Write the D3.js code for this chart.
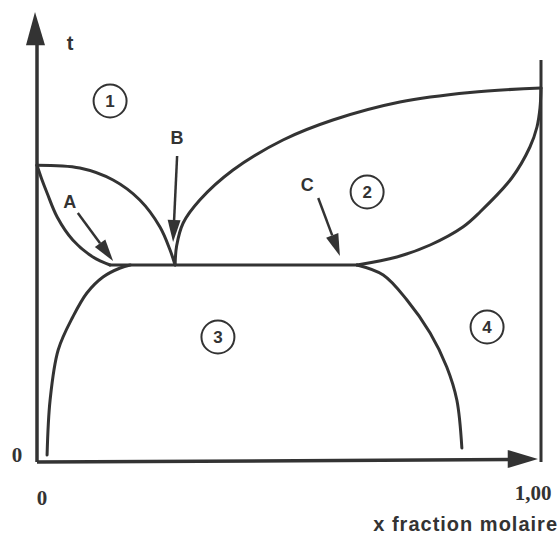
<!DOCTYPE html>
<html>
<head>
<meta charset="utf-8">
<script src="https://cdn.jsdelivr.net/npm/d3@7"></script>
<style>
  body { margin: 0; background: #fff; }
  svg { display: block; }
  .curve { fill: none; stroke: #333; stroke-width: 3; stroke-linecap: round; stroke-linejoin: round; }
  .sans { font-family: "Liberation Sans", Arial, sans-serif; font-weight: bold; fill: #333; }
  .serif { font-family: "Liberation Serif", "Times New Roman", serif; font-weight: bold; fill: #333; }
</style>
</head>
<body>
<div id="wrapper"></div>
<script>
// x = fraction molaire, t = temperature (arbitrary units)
const leftLiquidus = [[0, 74.2], [0.085, 73.5], [0.151, 70.5], [0.204, 65.5], [0.244, 58.75], [0.264, 53], [0.274, 49.25]];
const leftSolidus = [[0, 74.2], [0.01, 70.5], [0.02, 67.25], [0.04, 61.25], [0.071, 55.5], [0.111, 51.25], [0.145, 49.25]];
const eutectic = [[0.145, 49.25], [0.635, 49.25]];
const domeLeft = [[0.020, 1.75], [0.026, 15.5], [0.042, 28], [0.071, 36.25], [0.099, 42.25], [0.131, 46.25], [0.165, 48.5], [0.185, 49.25]];
const domeRight = [[0.635, 49.25], [0.687, 46.75], [0.734, 40.5], [0.780, 32.25], [0.813, 23.75], [0.833, 15.5], [0.843, 3.5]];
const rightLiquidus = [[0.274, 49.25], [0.277, 54], [0.290, 59.75], [0.323, 65.5], [0.389, 73], [0.488, 80.5], [0.587, 85.5], [0.720, 90], [0.859, 92.4], [1.0, 93.5]];
const rightSolidus = [[0.635, 49.25], [0.714, 51.25], [0.780, 54.25], [0.845, 58.75], [0.879, 62.5], [0.942, 71], [0.978, 78.75], [0.992, 83.75], [0.998, 88.5], [1.0, 93.5]];

const regions = [
    {label: "1", x: 0.145, t: 90.25},
    {label: "2", x: 0.655, t: 67.5},
    {label: "3", x: 0.359, t: 31.25},
    {label: "4", x: 0.893, t: 33.75}
];
const pointers = [
    {label: "A", from: [0.081, 62.25], to: [0.151, 50.25], text: [0.065, 65]},
    {label: "B", from: [0.278, 76.5], to: [0.270, 55], text: [0.278, 81]},
    {label: "C", from: [0.558, 66], to: [0.601, 51.5], text: [0.536, 69.25]}
];
const xTickLabels = ["0", "1,00"];
const yTickLabels = ["0"];

const dimension = {width: 559, height: 535};

const svg = d3.select("#wrapper").append("svg")
    .attr("width", dimension.width)
    .attr("height", dimension.height);

const xScaler = d3.scaleLinear().domain([0, 1]).range([37, 541]);
const yScaler = d3.scaleLinear().domain([0, 100]).range([462, 62]);

const line = d3.line()
    .x(d => xScaler(d[0]))
    .y(d => yScaler(d[1]))
    .curve(d3.curveCatmullRom.alpha(0.5));

// axes
const ax = svg.append("g");
ax.append("line")
    .attr("x1", xScaler(0)).attr("y1", yScaler(0))
    .attr("x2", xScaler(0)).attr("y2", yScaler(108))
    .attr("stroke", "#333").attr("stroke-width", 3.5);
ax.append("path")
    .attr("d", `M${xScaler(0) - 2},${yScaler(112.5)} L${xScaler(0) - 11},${yScaler(104.2)} L${xScaler(0) + 8},${yScaler(104.2)} Z`)
    .attr("fill", "#333");
ax.append("line")
    .attr("x1", xScaler(0)).attr("y1", yScaler(0))
    .attr("x2", xScaler(0.94)).attr("y2", yScaler(0.6))
    .attr("stroke", "#333").attr("stroke-width", 3.5);
ax.append("path")
    .attr("d", `M${xScaler(0.994)},${yScaler(0.75)} L${xScaler(0.934)},${yScaler(3)} L${xScaler(0.934)},${yScaler(-1.5)} Z`)
    .attr("fill", "#333");
// right border (pure component)
ax.append("line")
    .attr("x1", xScaler(1)).attr("y1", yScaler(100.5))
    .attr("x2", xScaler(1)).attr("y2", yScaler(0))
    .attr("stroke", "#333").attr("stroke-width", 3);

// phase boundaries
[leftLiquidus, leftSolidus, eutectic, domeLeft, domeRight, rightLiquidus, rightSolidus].forEach(d => {
    svg.append("path").attr("class", "curve").attr("d", line(d));
});

// circled region numbers
const reg = svg.selectAll(".region").data(regions).join("g")
    .attr("transform", d => `translate(${xScaler(d.x)},${yScaler(d.t)})`);
reg.append("circle").attr("r", 16.5)
    .attr("fill", "none").attr("stroke", "#333").attr("stroke-width", 2);
reg.append("text").attr("class", "sans")
    .attr("text-anchor", "middle").attr("dy", "0.36em")
    .attr("font-size", 17)
    .text(d => d.label);

// pointer arrows A, B, C
pointers.forEach(p => {
    const x1 = xScaler(p.from[0]), y1 = yScaler(p.from[1]);
    const x2 = xScaler(p.to[0]), y2 = yScaler(p.to[1]);
    const ang = Math.atan2(y2 - y1, x2 - x1);
    const hl = 22, hw = 6.5;
    const bx = x2 - hl * Math.cos(ang), by = y2 - hl * Math.sin(ang);
    svg.append("line")
        .attr("x1", x1).attr("y1", y1).attr("x2", bx).attr("y2", by)
        .attr("stroke", "#333").attr("stroke-width", 2.5);
    svg.append("path")
        .attr("d", `M${x2},${y2} L${bx - hw * Math.sin(ang)},${by + hw * Math.cos(ang)} L${bx + hw * Math.sin(ang)},${by - hw * Math.cos(ang)} Z`)
        .attr("fill", "#333");
    svg.append("text").attr("class", "sans")
        .attr("x", xScaler(p.text[0])).attr("y", yScaler(p.text[1]))
        .attr("text-anchor", "middle").attr("dy", "0.36em")
        .attr("font-size", 18)
        .text(p.label);
});

// labels
svg.append("text").attr("class", "sans")
    .attr("x", xScaler(0) + 33).attr("y", 50)
    .attr("text-anchor", "middle").attr("font-size", 20)
    .text("t");
svg.append("text").attr("class", "serif")
    .attr("x", 17).attr("y", yScaler(0))
    .attr("text-anchor", "middle").attr("font-size", 21)
    .text(yTickLabels[0]);
svg.selectAll(".xtick").data([0, 1]).join("text")
    .attr("class", "serif")
    .attr("x", (d, i) => xScaler(d) + (i ? -8 : 5))
    .attr("y", (d, i) => i ? 500 : 505)
    .attr("text-anchor", "middle").attr("font-size", 21)
    .text((d, i) => xTickLabels[i]);
svg.append("text").attr("class", "sans")
    .attr("x", 558).attr("y", 531)
    .attr("text-anchor", "end").attr("font-size", 20)
    .attr("letter-spacing", 1)
    .text("x fraction molaire");
</script>
</body>
</html>
